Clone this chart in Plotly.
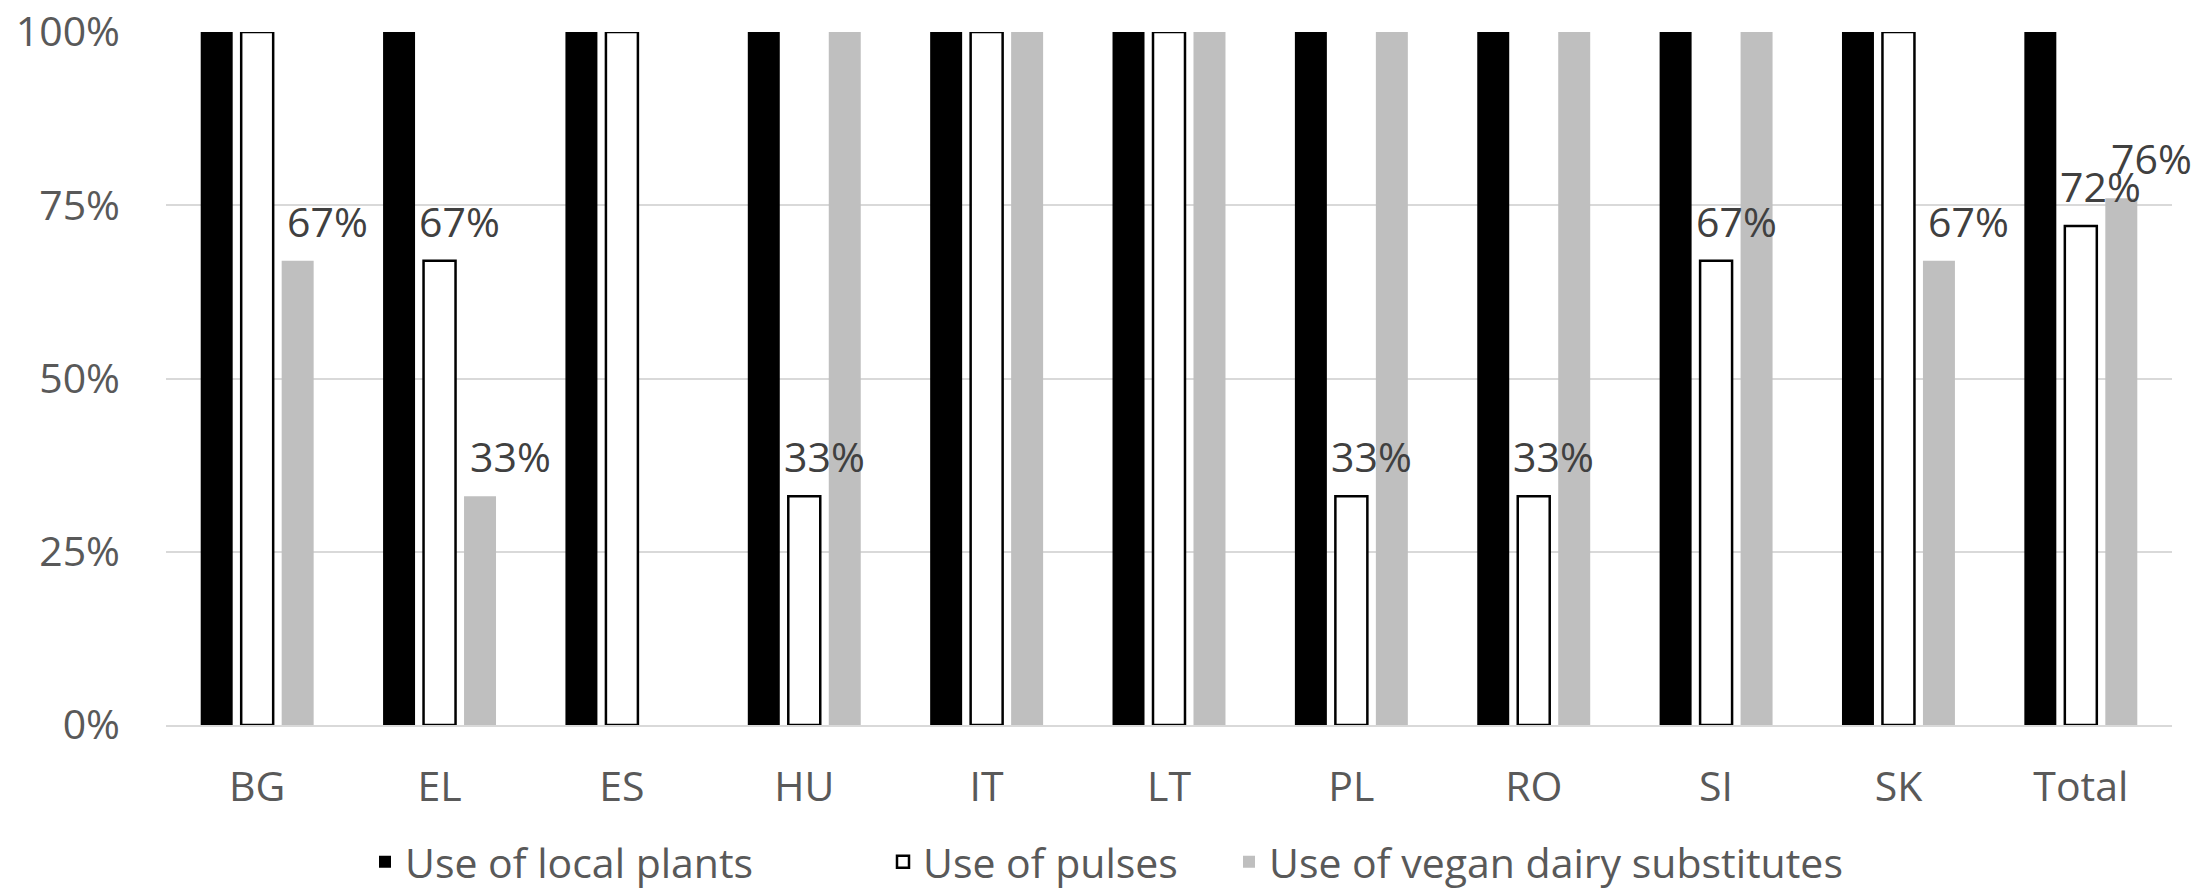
import plotly.graph_objects as go

categories = ["BG", "EL", "ES", "HU", "IT", "LT", "PL", "RO", "SI", "SK", "Total"]
local_plants = [1.00, 1.00, 1.00, 1.00, 1.00, 1.00, 1.00, 1.00, 1.00, 1.00, 1.00]
pulses = [1.00, 0.67, 1.00, 0.33, 1.00, 1.00, 0.33, 0.33, 0.67, 1.00, 0.72]
vegan_dairy = [0.67, 0.33, 0.00, 1.00, 1.00, 1.00, 1.00, 1.00, 1.00, 0.67, 0.76]
series_names = ["Use of local plants", "Use of pulses", "Use of vegan dairy substitutes"]
y_ticks = [0, 0.25, 0.5, 0.75, 1.0]

FONT = "Open Sans"
W, H = 2198, 890
ML, MR, MT, MB = 166, 26, 32, 165
PW, PH = W - ML - MR, H - MT - MB

fig = go.Figure()
fig.add_trace(go.Bar(x=categories, y=local_plants, name=series_names[0], legend="legend",
                     marker=dict(color="#000000", line=dict(width=0))))
fig.add_trace(go.Bar(x=categories, y=pulses, name=series_names[1], legend="legend2",
                     marker=dict(color="#ffffff", line=dict(color="#000000", width=2.5))))
fig.add_trace(go.Bar(x=categories, y=vegan_dairy, name=series_names[2], legend="legend3",
                     marker=dict(color="#bfbfbf", line=dict(width=0))))

# data labels for values strictly between 0 and 1
slot = 40.5
annotations = []
for vals, off, extra in [(pulses, 0, 20), (vegan_dairy, slot, 30)]:
    for c, v in zip(categories, vals):
        if 0 < v < 1:
            annotations.append(dict(
                x=c, y=v, xref="x", yref="y", text=f"{round(v*100)}%",
                showarrow=False, xanchor="center", yanchor="bottom",
                xshift=off + extra, yshift=10,
                font=dict(family=FONT, size=41, color="#404040")))

def leg(text_px):
    return dict(orientation="h", x=(text_px - 41 - ML) / PW, xanchor="left",
                y=(725 - 862) / PH, yanchor="middle",
                font=dict(family=FONT, size=41, color="#595959"),
                bgcolor="rgba(0,0,0,0)", borderwidth=0)

fig.update_layout(
    width=W, height=H,
    margin=dict(l=ML, r=MR, t=MT, b=MB, pad=0, autoexpand=False),
    paper_bgcolor="white", plot_bgcolor="white",
    barmode="group", bargap=0.334, bargroupgap=0.21,
    font=dict(family=FONT, size=41, color="#595959"),
    annotations=annotations,
    showlegend=True,
    legend=leg(406), legend2=leg(924), legend3=leg(1270),
)
fig.update_yaxes(range=[0, 1], tickvals=y_ticks, tickformat=".0%",
                 showgrid=True, gridcolor="#d9d9d9", gridwidth=2,
                 zeroline=False, showline=False, ticks="", automargin=False,
                 ticklabelstandoff=45,
                 tickfont=dict(family=FONT, size=41, color="#595959"))
fig.update_xaxes(range=[-0.5, len(categories) - 0.5],
                 showline=True, linecolor="#d9d9d9", linewidth=2,
                 ticks="", ticklabelstandoff=25, automargin=False,
                 tickfont=dict(family=FONT, size=41, color="#595959"))

fig.write_html("out.html", config={"displayModeBar": False},
               post_script="document.body.style.margin='0px';document.body.style.overflow='hidden';")
